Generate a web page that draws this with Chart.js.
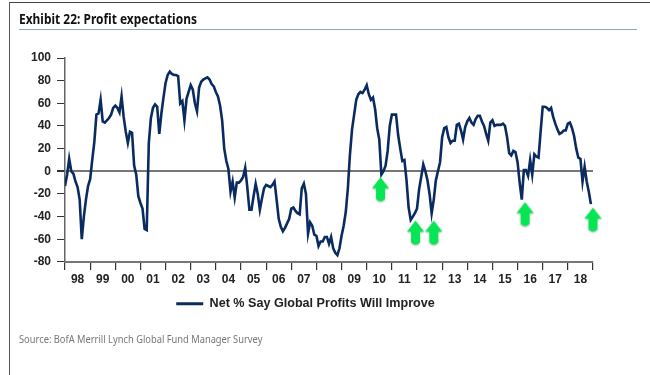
<!DOCTYPE html>
<html><head><meta charset="utf-8">
<script src="https://cdn.jsdelivr.net/npm/chart.js@4"></script>
<style>
html,body{margin:0;padding:0;background:#fff;width:650px;height:375px;overflow:hidden}
canvas{position:absolute;left:0;top:0}
.t{position:absolute;white-space:nowrap;transform-origin:0 50%}
#frameTop{position:absolute;left:9px;top:2px;width:641px;height:1px;background:#444}
#frameLeft{position:absolute;left:9px;top:2px;width:1px;height:373px;background:#555}
#rule{position:absolute;left:19px;top:28.5px;width:618px;height:1.5px;background:#8ea4c4}
#title{left:19px;top:10px;font:bold 13.5px "Noto Sans";color:#111;transform:scaleX(.885)}
#source{left:19px;top:332px;font:10.5px "Noto Sans";color:#777;transform:scaleX(.887)}
</style></head><body>
<canvas id="c" width="650" height="375"></canvas>
<div id="frameTop"></div><div id="frameLeft"></div><div id="rule"></div>
<div class="t" id="title">Exhibit 22: Profit expectations</div>
<div class="t" id="source">Source:  BofA Merrill Lynch Global Fund Manager Survey</div>
<script>
const years=['98','99','00','01','02','03','04','05','06','07','08','09','10','11','12','13','14','15','16','17','18'];
const seriesName='Net % Say Global Profits Will Improve';
const netPct=[
-13,-3,11,0,-2,-9,-14,-25,-60,-40,-25,-13,
-7,10,26,50,51,63,44,43,45,47,50,56,
58,56,52,66,48,35,25,35,34,5,-3,-22,
-28,-33,-51,-52,25,47,56,59,57,33,51,65,
78,85,88,86,85,85,84,60,62,45,64,70,
76,72,60,53,74,79,81,82,83,81,77,75,
70,66,58,45,20,9,2,-18,-9,-23,-10,-10,
-8,-5,3,-14,-34,-34,-22,-11,-20,-34,-24,-15,
-12,-13,-14,-12,-9,-25,-42,-49,-53,-50,-46,-42,
-33,-32,-35,-37,-38,-15,-11,-20,-55,-45,-48,-56,
-57,-66,-62,-62,-58,-58,-64,-58,-68,-72,-74,-68,
-57,-48,-36,-15,15,37,50,63,68,70,69,72,
76,68,63,65,55,38,28,-3,0,5,18,40,
50,50,50,32,20,9,10,-8,-32,-43,-40,-37,
-33,-16,-5,6,0,-8,-20,-37,-25,-8,0,8,
30,38,39,30,25,27,27,41,42,36,28,39,
44,47,43,41,46,49,49,44,40,33,27,43,
45,40,41,41,41,42,40,30,16,14,18,17,
8,-10,-25,1,1,-4,10,-3,15,13,12,35,
57,57,56,54,56,48,42,37,33,34,36,36,
42,43,38,31,20,12,11,-9,4,-9,-18,-29];
const arrowMonth=[150.6,167.3,176,219.6,252];
const arrowLevel=[-16.7,-55,-55,-38.6,-43.5];

function arrowImage(){
  const c=document.createElement('canvas');c.width=25;c.height=33;
  const g=c.getContext('2d');
  g.shadowColor='rgba(60,90,60,0.45)';g.shadowBlur=2;g.shadowOffsetY=1;
  g.fillStyle='#06e553';
  g.beginPath();g.moveTo(12.5,3.5);g.lineTo(21,14.5);g.lineTo(17,14.5);g.lineTo(17,25);
  g.quadraticCurveTo(12.5,30,8,25);g.lineTo(8,14.5);g.lineTo(4,14.5);g.closePath();g.fill();
  return c;
}
new Chart(document.getElementById('c'),{
  type:'line',
  data:{datasets:[
    {label:seriesName,data:netPct.map((v,i)=>({x:i,y:v})),borderColor:'#0a2b60',backgroundColor:'#0a2b60',borderWidth:2.6,pointRadius:0,tension:0,order:2},
    {label:'arrows',data:arrowMonth.map((m,i)=>({x:m,y:arrowLevel[i]})),showLine:false,pointStyle:arrowImage(),pointRadius:12,clip:false,order:1}
  ]},
  options:{
    responsive:false,animation:false,
    layout:{padding:{left:18,right:57,top:58,bottom:55}},
    plugins:{tooltip:{enabled:false},
      legend:{position:'bottom',labels:{
        generateLabels:ch=>Chart.defaults.plugins.legend.labels.generateLabels(ch).filter(i=>i.text!=='arrows').map(i=>({...i,lineWidth:0})),
        boxWidth:27,boxHeight:3,padding:6,color:'#222',font:{family:'Liberation Sans',size:12.6,weight:'bold'}}}},
    scales:{
      x:{type:'linear',min:0,max:252,
        afterFit(s){s.height=29.5;},
        border:{display:true,color:'#777',width:2},
        grid:{drawOnChartArea:false,color:'#333',lineWidth:1.2,tickLength:8,tickColor:'#333'},
        ticks:{stepSize:12,autoSkip:false,maxRotation:0,labelOffset:12.57,padding:3,color:'#222',font:{family:'Liberation Sans',size:12,weight:'bold'},includeBounds:true,
          callback:v=>years[v/12]??''}},
      y:{min:-80,max:100,
        afterFit(s){s.width=47;},
        border:{display:true,color:'#666',width:1.5},
        grid:{color:c=>c.tick.value===0?'#777':'rgba(0,0,0,0)',lineWidth:c=>c.tick.value===0?2:1,tickLength:8,tickColor:'#333',drawTicks:true},
        ticks:{stepSize:20,padding:6,color:'#222',font:{family:'Liberation Sans',size:12,weight:'bold'}}}
    }
  }
});
</script></body></html>
